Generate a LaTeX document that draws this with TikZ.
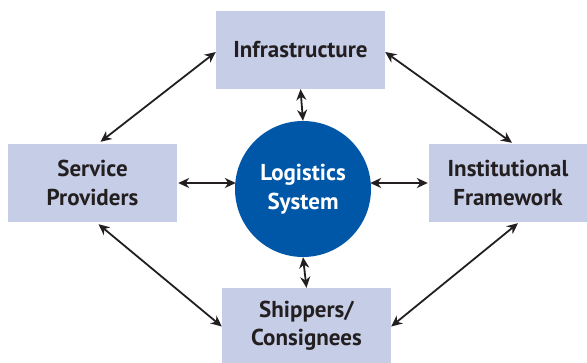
\documentclass[tikz,border=0pt]{standalone}
\usepackage{fontspec}
\setmainfont{PT Sans}
\usetikzlibrary{arrows.meta,calc}
\definecolor{boxfill}{HTML}{C6CDE7}
\definecolor{logiblue}{HTML}{0057A8}
\definecolor{txt}{HTML}{231F20}
\begin{document}
\begin{tikzpicture}[x=1pt,y=-1pt,
  lbl/.style={font=\fontsize{23}{28.5}\selectfont\bfseries, text=txt, align=center},
  boxnode/.style={lbl, fill=boxfill, minimum width=169pt, minimum height=78pt, inner sep=0pt},
  link/.style={draw=txt, line width=1.8pt, {Stealth[length=11pt,width=10pt,inset=3.5pt]}-{Stealth[length=11pt,width=10pt,inset=3.5pt]}}]
\useasboundingbox (0,0) rectangle (587,363);
\node[boxnode] (infra) at (300.5,50) {Infrastructure};
\node[boxnode] (sp) at (92.5,183) {Service\\Providers};
\node[boxnode, minimum width=158pt] (inst) at (508,183) {Institutional\\Framework};
\node[boxnode, minimum height=75pt] (ship) at (306.5,325.5) {Shippers/\\Consignees};
\node[circle, fill=logiblue, minimum size=136pt, inner sep=0pt, lbl, text=white] (logi) at (303,189) {Logistics\\System};
\draw[link] ([xshift=8pt,yshift=2pt]sp.north) -- ([yshift=-2pt]infra.west);
\draw[link] ([yshift=-2pt]infra.east) -- ([xshift=4pt,yshift=1pt]inst.north);
\draw[link] ([xshift=6pt,yshift=-2pt]sp.south) -- ([yshift=-1pt]ship.west);
\draw[link] ([yshift=-1pt]ship.east) -- ([xshift=10pt,yshift=-1pt]inst.south);
\draw[link] ([xshift=1pt]sp.east) -- ([xshift=1pt]sp.east -| logi.west);
\draw[link, line width=2.8pt] ([xshift=-1pt]inst.west -| logi.east) -- ([xshift=-1pt]inst.west);
\draw[link] (infra.south) -- (logi.north);
\draw[link] (logi.south) -- (ship.north);
\end{tikzpicture}
\end{document}
